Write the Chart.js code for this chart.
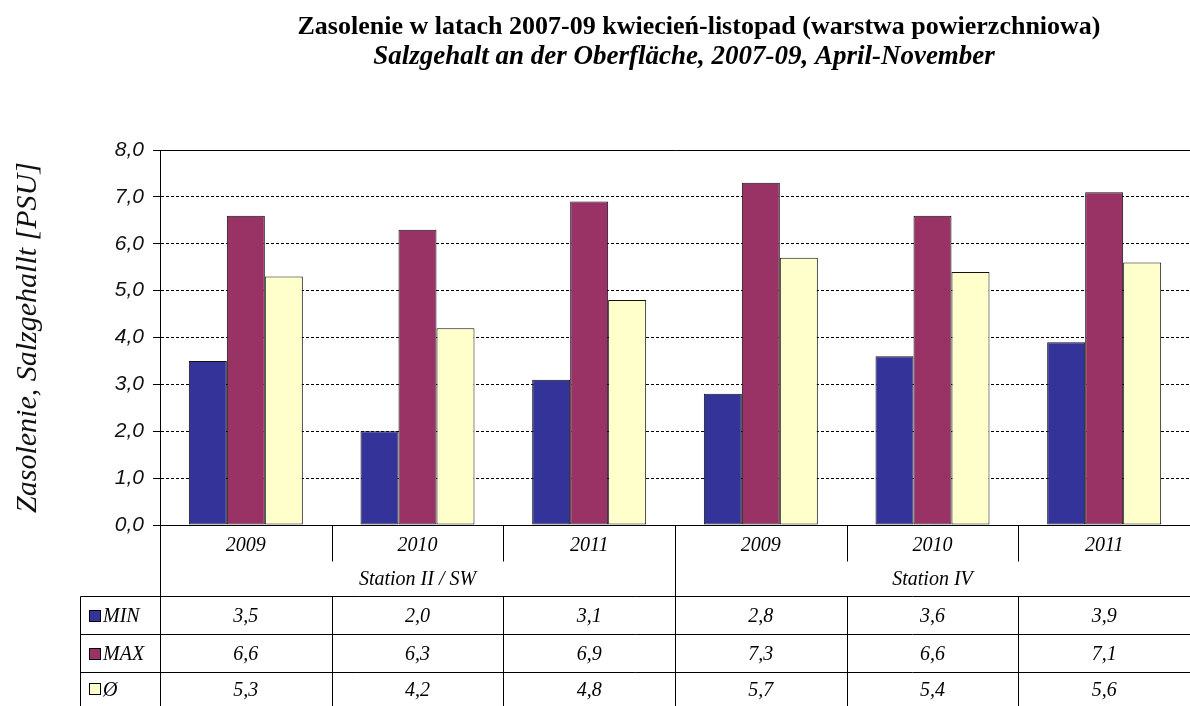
<!DOCTYPE html>
<html>
<head>
<meta charset="utf-8">
<script src="https://cdn.jsdelivr.net/npm/chart.js@4"></script>
<style>
  body { margin: 0; background: #fff; }
  #wrap { width: 1190px; height: 706px; position: relative; }
</style>
</head>
<body>
<div id="wrap"><canvas id="myChart"></canvas></div>
<script>
// data
const years = ["2009", "2010", "2011", "2009", "2010", "2011"];
const stations = ["Station II / SW", "Station IV"];
const minValues = [3.5, 2.0, 3.1, 2.8, 3.6, 3.9];
const maxValues = [6.6, 6.3, 6.9, 7.3, 6.6, 7.1];
const avgValues = [5.3, 4.2, 4.8, 5.7, 5.4, 5.6];
const seriesNames = ["MIN", "MAX", "Ø"];
const seriesColors = ["#333399", "#993366", "#FFFFCC"];
const titleText = "Zasolenie w latach 2007-09 kwiecień-listopad (warstwa powierzchniowa)";
const subtitleText = "Salzgehalt an der Oberfläche, 2007-09, April-November";

const fmt = (v) => v.toFixed(1).replace(".", ",");

// titles + data table under the chart
const tablePlugin = {
  id: "tablePlugin",
  afterDraw(chart) {
    const c = chart.ctx;
    const x = chart.scales.x;
    const area = chart.chartArea;
    const catW = (x.right - x.left) / years.length;
    const top = Math.round(area.bottom) + 0.5;
    const yearRow = top + 36;
    const stRow = top + 71;
    const rows = [stRow, stRow + 38, stRow + 76, 706];
    const leftCol = 80.5;
    const axisX = Math.round(area.left) + 0.5;

    c.save();
    c.fillStyle = "#000";
    c.textAlign = "center";
    c.textBaseline = "middle";
    c.font = "bold 26px 'Liberation Serif'";
    c.fillText(titleText, 699, 27);
    c.font = "italic bold 27px 'Liberation Serif'";
    c.fillText(subtitleText, 684, 57);

    c.strokeStyle = "#000";
    c.lineWidth = 1;
    c.beginPath();
    // top border of plot
    c.moveTo(axisX, Math.round(area.top) + 0.5);
    c.lineTo(x.right, Math.round(area.top) + 0.5);
    // axis / table top
    c.moveTo(axisX - 7, top);
    c.lineTo(x.right, top);
    for (let r = 0; r < 3; r++) {
      c.moveTo(leftCol, rows[r]);
      c.lineTo(x.right, rows[r]);
    }
    c.moveTo(axisX, top);
    c.lineTo(axisX, 706);
    c.moveTo(leftCol, stRow);
    c.lineTo(leftCol, 706);
    for (let i = 1; i < years.length; i++) {
      const sx = Math.round(x.left + catW * i) + 0.5;
      if (i === 3) {
        c.moveTo(sx, top);
        c.lineTo(sx, 706);
      } else {
        c.moveTo(sx, top);
        c.lineTo(sx, yearRow);
        c.moveTo(sx, stRow);
        c.lineTo(sx, 706);
      }
    }
    c.stroke();

    c.font = "italic 20px 'Liberation Serif'";
    years.forEach((y, i) => {
      c.fillText(y, x.getPixelForValue(i), top + 20);
    });
    stations.forEach((s, k) => {
      const cx = x.left + catW * (k * 3 + 1.5);
      c.fillText(s, cx, top + 54);
    });
    const vals = [minValues, maxValues, avgValues];
    vals.forEach((arr, r) => {
      const cy = (rows[r] + rows[r + 1]) / 2;
      arr.forEach((v, i) => {
        c.fillText(fmt(v), x.getPixelForValue(i), cy + 1);
      });
      c.fillStyle = seriesColors[r];
      c.fillRect(89, Math.round(cy) - 6, 12, 12);
      c.strokeRect(89.5, Math.round(cy) - 5.5, 11, 11);
      c.fillStyle = "#000";
      c.textAlign = "left";
      c.fillText(seriesNames[r], 103, cy + 1);
      c.textAlign = "center";
    });
    c.restore();
  },
};

var ctx = document.getElementById("myChart").getContext("2d");
var myChart = new Chart(ctx, {
  type: "bar",
  data: {
    labels: years,
    datasets: [
      { label: seriesNames[0], data: minValues, backgroundColor: seriesColors[0] },
      { label: seriesNames[1], data: maxValues, backgroundColor: seriesColors[1] },
      { label: seriesNames[2], data: avgValues, backgroundColor: seriesColors[2] },
    ],
  },
  options: {
    responsive: true,
    maintainAspectRatio: false,
    animation: false,
    layout: { padding: { top: 150, bottom: 181, left: 0, right: 0 } },
    datasets: {
      bar: {
        borderColor: "#111",
        borderWidth: 1,
        borderSkipped: false,
        categoryPercentage: 0.664,
        barPercentage: 1.0,
      },
    },
    plugins: {
      legend: { display: false },
      tooltip: { enabled: false },
    },
    scales: {
      x: { display: false },
      y: {
        min: 0,
        max: 8,
        afterFit(scale) { scale.width = 160; },
        ticks: {
          stepSize: 1,
          padding: 9,
          color: "#111",
          font: { family: "'Liberation Sans'", style: "italic", size: 21 },
          callback: (v) => fmt(v),
        },
        grid: { color: "#000", lineWidth: 1, tickLength: 7 },
        border: { display: true, color: "#000", width: 1, dash: [3, 2] },
        title: {
          display: true,
          text: "Zasolenie, Salzgehallt [PSU]",
          color: "#111",
          padding: { top: 10, bottom: 0 },
          font: { family: "'Liberation Serif'", style: "italic", size: 30 },
        },
      },
    },
  },
  plugins: [tablePlugin],
});
</script>
</body>
</html>
